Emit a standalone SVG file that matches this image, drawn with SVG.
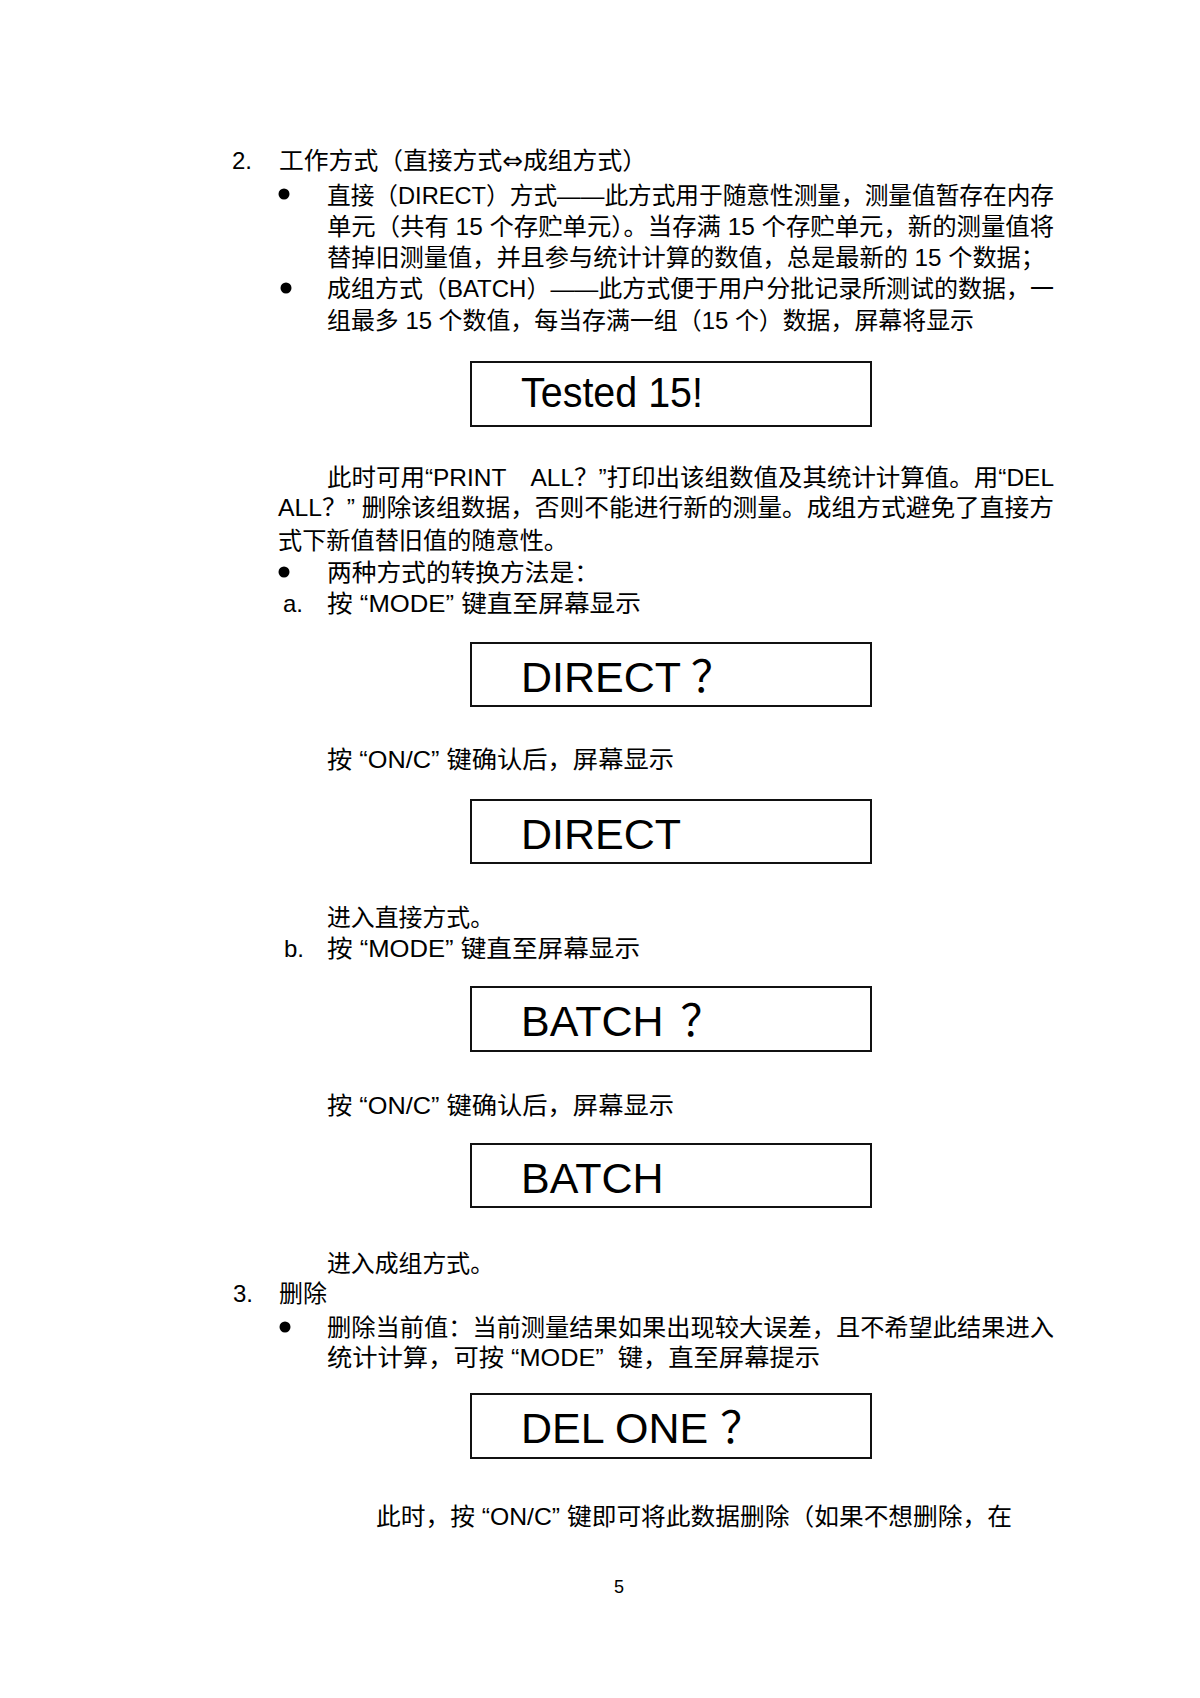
<svg xmlns="http://www.w3.org/2000/svg" width="1200" height="1698" viewBox="0 0 1200 1698">
<style>
.t{font-family:"Liberation Sans","Noto Sans CJK SC",sans-serif;font-size:24px;fill:#000;white-space:pre}
.ar{font-family:"DejaVu Sans","Noto Sans CJK SC",sans-serif}
.bx{fill:none;stroke:#111;stroke-width:2}
.bt{font-family:"Liberation Sans","Noto Sans CJK SC",sans-serif;font-size:43px;fill:#000;white-space:pre}
.pg{font-family:"Liberation Sans",sans-serif;font-size:18px;fill:#000}
</style>
<rect width="1200" height="1698" fill="#fff"/>
<g id="text-body">
<text class="t" x="232" y="169">2.</text>
<text class="t" x="279" y="169" textLength="368" lengthAdjust="spacingAndGlyphs">工作方式（直接方式<tspan class="ar">⇔</tspan>成组方式）</text>
<circle cx="284" cy="194" r="5.5"/>
<text class="t" x="327" y="204" textLength="727" lengthAdjust="spacingAndGlyphs">直接（DIRECT）方式——此方式用于随意性测量，测量值暂存在内存</text>
<text class="t" x="327" y="235" textLength="727" lengthAdjust="spacingAndGlyphs">单元（共有 15 个存贮单元）。当存满 15 个存贮单元，新的测量值将</text>
<text class="t" x="327" y="266" textLength="718" lengthAdjust="spacingAndGlyphs">替掉旧测量值，并且参与统计计算的数值，总是最新的 15 个数据；</text>
<circle cx="286" cy="288" r="5.5"/>
<text class="t" x="327" y="297" textLength="727" lengthAdjust="spacingAndGlyphs">成组方式（BATCH）——此方式便于用户分批记录所测试的数据，一</text>
<text class="t" x="327" y="329" textLength="647" lengthAdjust="spacingAndGlyphs">组最多 15 个数值，每当存满一组（15 个）数据，屏幕将显示</text>

<text class="t" x="327" y="486" textLength="727" lengthAdjust="spacingAndGlyphs">此时可用“PRINT　ALL？”打印出该组数值及其统计计算值。用“DEL</text>
<text class="t" x="278" y="516" textLength="776" lengthAdjust="spacingAndGlyphs">ALL？” 删除该组数据，否则不能进行新的测量。成组方式避免了直接方</text>
<text class="t" x="278" y="549" textLength="290" lengthAdjust="spacingAndGlyphs">式下新值替旧值的随意性。</text>
<circle cx="284" cy="572" r="5.5"/>
<text class="t" x="327" y="581" textLength="272" lengthAdjust="spacingAndGlyphs">两种方式的转换方法是：</text>
<text class="t" x="283" y="612">a.</text>
<text class="t" x="327" y="612" textLength="314" lengthAdjust="spacingAndGlyphs">按 “MODE” 键直至屏幕显示</text>

<text class="t" x="327" y="768" textLength="347" lengthAdjust="spacingAndGlyphs">按 “ON/C” 键确认后，屏幕显示</text>
<text class="t" x="327" y="926" textLength="167" lengthAdjust="spacingAndGlyphs">进入直接方式。</text>
<text class="t" x="284" y="957">b.</text>
<text class="t" x="327" y="957" textLength="313" lengthAdjust="spacingAndGlyphs">按 “MODE” 键直至屏幕显示</text>

<text class="t" x="327" y="1114" textLength="347" lengthAdjust="spacingAndGlyphs">按 “ON/C” 键确认后，屏幕显示</text>
<text class="t" x="327" y="1272" textLength="167" lengthAdjust="spacingAndGlyphs">进入成组方式。</text>
<text class="t" x="233" y="1302">3.</text>
<text class="t" x="279" y="1302" textLength="48" lengthAdjust="spacingAndGlyphs">删除</text>
<circle cx="285" cy="1327" r="5.5"/>
<text class="t" x="327" y="1336" textLength="727" lengthAdjust="spacingAndGlyphs">删除当前值：当前测量结果如果出现较大误差，且不希望此结果进入</text>
<text class="t" x="327" y="1366" textLength="493" lengthAdjust="spacingAndGlyphs">统计计算，可按 “MODE”  键，直至屏幕提示</text>

<text class="t" x="376" y="1525" textLength="636" lengthAdjust="spacingAndGlyphs">此时，按 “ON/C” 键即可将此数据删除（如果不想删除，在</text>
<text class="pg" x="614" y="1593">5</text>
</g>
<g id="box-tested">
<rect class="bx" x="471" y="362" width="400" height="64"/>
<text class="bt" x="521" y="407" textLength="182" lengthAdjust="spacingAndGlyphs">Tested 15!</text>
</g>
<g id="box-direct-q">
<rect class="bx" x="471" y="643" width="400" height="63"/>
<text class="bt" x="521" y="691.5">DIRECT<tspan dx="10">？</tspan></text>
</g>
<g id="box-direct">
<rect class="bx" x="471" y="800" width="400" height="63"/>
<text class="bt" x="521" y="848.5">DIRECT</text>
</g>
<g id="box-batch-q">
<rect class="bx" x="471" y="987" width="400" height="64"/>
<text class="bt" x="521" y="1035.5">BATCH<tspan dx="17">？</tspan></text>
</g>
<g id="box-batch">
<rect class="bx" x="471" y="1144" width="400" height="63"/>
<text class="bt" x="521" y="1192.5">BATCH</text>
</g>
<g id="box-del-one">
<rect class="bx" x="471" y="1394" width="400" height="64"/>
<text class="bt" x="521" y="1442.5">DEL ONE<tspan dx="12">？</tspan></text>
</g>
</svg>
